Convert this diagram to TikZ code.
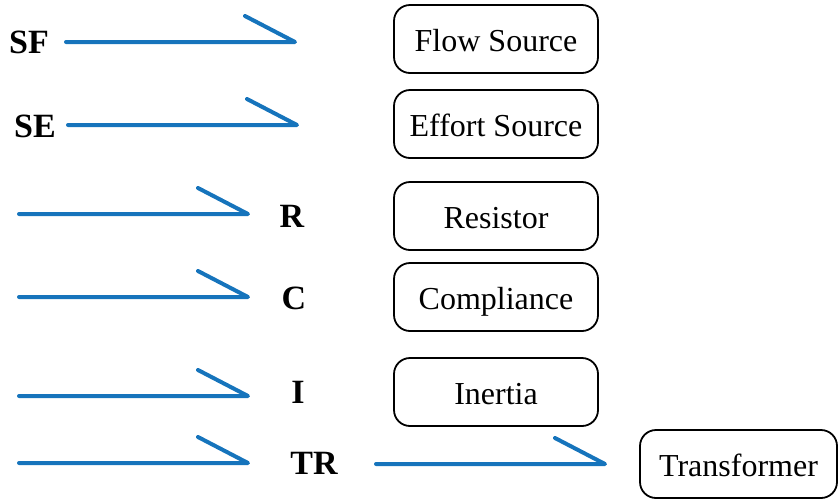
\documentclass[tikz,border=0pt]{standalone}
\usepackage{fontspec}
\setmainfont{Liberation Serif}
\definecolor{bondblue}{RGB}{22,116,188}
\tikzset{
  bond/.style={draw=bondblue, line width=4pt, line cap=round, line join=round},
  elembox/.style={draw=black, line width=1.8pt, rounded corners=16pt, minimum width=204pt, minimum height=68pt, inner sep=0pt, text height=25pt, text depth=0pt, font=\fontsize{32}{34}\selectfont},
  lbl/.style={inner sep=0pt, font=\fontsize{34}{36}\selectfont\bfseries}
}
\begin{document}
\begin{tikzpicture}[x=1pt,y=-1pt]
\useasboundingbox (0,0) rectangle (838,499);
% labels
\node[lbl] (sf) at (29,42) {SF};
\node[lbl] (se) at (35,126) {SE};
\node[lbl] (r) at (292,216) {R};
\node[lbl] (c) at (294,298) {C};
\node[lbl] (i) at (298,392) {I};
\node[lbl] (tr) at (314,463) {TR};
% boxes
\node[elembox] (fs) at (496,39) {Flow Source};
\node[elembox] (es) at (496,124) {Effort Source};
\node[elembox] (res) at (496,216) {Resistor};
\node[elembox] (com) at (496,297) {Compliance};
\node[elembox] (ine) at (496,392) {Inertia};
\node[elembox, minimum width=197pt] (tra) at (738.5,464) {Transformer};
% bond coordinates
\coordinate (sfa) at (66,42);  \coordinate (sfb) at (295,42);  \coordinate (sfh) at (245,16);
\coordinate (sea) at (68,125); \coordinate (seb) at (297,125); \coordinate (seh) at (247,99);
\coordinate (ra) at (19,214);  \coordinate (rb) at (248,214);  \coordinate (rh) at (198,188);
\coordinate (ca) at (19,297);  \coordinate (cb) at (248,297);  \coordinate (ch) at (198,271);
\coordinate (ia) at (19,396);  \coordinate (ib) at (248,396);  \coordinate (ih) at (198,370);
\coordinate (ta) at (19,463);  \coordinate (tb) at (248,463);  \coordinate (th) at (198,437);
\coordinate (ua) at (376,464); \coordinate (ub) at (605,464);  \coordinate (uh) at (555,438);
% bonds
\draw[bond] (sfa) -- (sfb) -- (sfh);
\draw[bond] (sea) -- (seb) -- (seh);
\draw[bond] (ra) -- (rb) -- (rh);
\draw[bond] (ca) -- (cb) -- (ch);
\draw[bond] (ia) -- (ib) -- (ih);
\draw[bond] (ta) -- (tb) -- (th);
\draw[bond] (ua) -- (ub) -- (uh);
\end{tikzpicture}
\end{document}
